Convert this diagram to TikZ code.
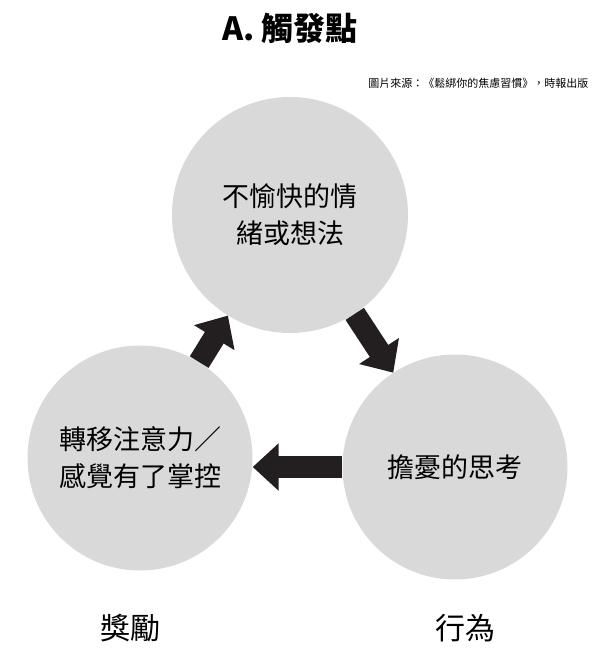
\documentclass[tikz,border=0pt]{standalone}
\usepackage{fontspec}
\setmainfont{Noto Sans CJK TC}
\usetikzlibrary{arrows.meta}
\definecolor{cgray}{HTML}{D9D9D9}
\definecolor{cblack}{HTML}{231F20}

\begin{document}
\begin{tikzpicture}[x=1pt,y=-1pt,
		stage/.style ={circle, fill=cgray, align=center, font=\fontsize{27}{37}\selectfont},
		flow/.style ={line width=22pt, draw=cblack, -{Triangle[length=26pt,width=46pt]}},
		caption/.style ={font=\fontsize{30}{34}\selectfont}]
		\useasboundingbox (0,0) rectangle (600,661);
		\node[stage, minimum size=236pt] (trig) at (290,215) {不愉快的情\\緒或想法};
		\node[stage, minimum size=225pt] (act) at (455,467) {擔憂的思考};
		\node[stage, minimum size=225pt] (rew) at (140,458) {轉移注意力／\\感覺有了掌控};
		\node[caption, font=\bfseries\fontsize{32}{36}\selectfont] (title) at (290,28) {A. 觸發點};
		\node[anchor=east, font=\fontsize{11}{13}\selectfont] (src) at (592,83) {圖片來源：《鬆綁你的焦慮習慣》，時報出版};
		\node[caption] (lrew) at (130,628) {獎勵};
		\node[caption] (lact) at (465,628) {行為};
		\draw[flow] (trig) -- (act);
		\draw[flow] (act.west) -- (rew.east |- act.west);
		\draw[flow] (rew) -- (trig);
	\end{tikzpicture}
\end{document}
